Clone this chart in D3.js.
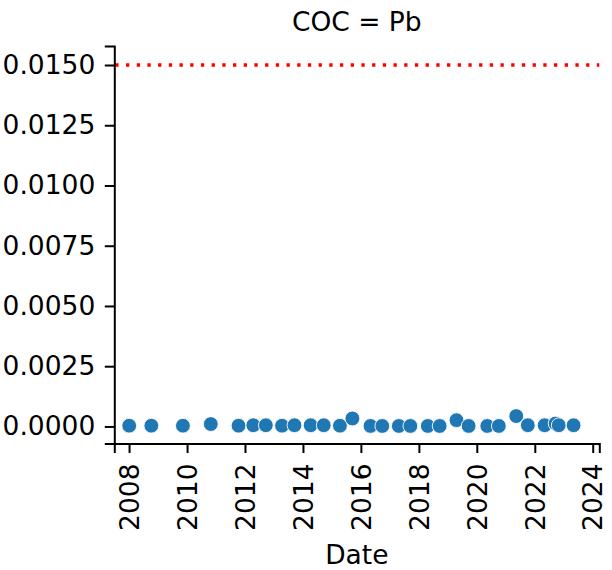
<!DOCTYPE html>
<html>
<head>
<meta charset="utf-8">
<script src="https://cdn.jsdelivr.net/npm/d3@7"></script>
<style>
  html, body { margin: 0; padding: 0; background: #fff; }
  svg { display: block; font-family: "DejaVu Sans", sans-serif; }
</style>
</head>
<body>
<svg id="chart" width="612" height="570"></svg>
<script>
// ---- data ----
const dates = [
  "2008-01-03", "2008-10-08", "2009-11-10", "2010-10-27", "2011-10-12",
  "2012-04-15", "2012-09-20", "2013-04-12", "2013-09-16", "2014-04-08",
  "2014-09-20", "2015-04-12", "2015-09-16", "2016-05-01", "2016-09-27",
  "2017-04-23", "2017-09-16", "2018-04-23", "2018-09-20", "2019-04-20",
  "2019-09-20", "2020-05-12", "2020-10-05", "2021-05-12", "2021-10-05",
  "2022-05-05", "2022-09-20", "2022-10-30", "2023-05-05"
];
const values = [
  0.00003, 0.00003, 0.00003, 0.00010, 0.00003,
  0.00005, 0.00005, 0.00003, 0.00005, 0.00005,
  0.00005, 0.00003, 0.00033, 0.00002, 0.00002,
  0.00002, 0.00002, 0.00002, 0.00002, 0.00026,
  0.00002, 0.00002, 0.00002, 0.00043, 0.00005,
  0.00005, 0.00012, 0.00005, 0.00005
];
const yTicks = [0, 0.0025, 0.005, 0.0075, 0.01, 0.0125, 0.015];
const xTickYears = [2008, 2010, 2012, 2014, 2016, 2018, 2020, 2022, 2024];
const threshold = [0.015];
const titleText = "COC = Pb";
const xLabelText = "Date";

// ---- layout ----
const mLeft = 114.3, mRight = 599.3, mTop = 46, mBottom = 443.5;
const fontSize = 26.5;

const parse = d3.timeParse("%Y-%m-%d");
const data = dates.map((d, i) => ({ date: parse(d), value: values[i] }));

const x = d3.scaleTime()
  .domain([new Date(2007, 5, 29), new Date(2024, 2, 24)])
  .range([mLeft, mRight]);
const y = d3.scaleLinear()
  .domain([-0.000708, 0.015789])
  .range([mBottom, mTop]);

const svg = d3.select("#chart");
svg.append("rect").attr("width", 612).attr("height", 570).attr("fill", "#fff");

// threshold line
svg.selectAll("line.thr").data(threshold).enter().append("line")
  .attr("class", "thr")
  .attr("x1", mLeft + 1).attr("x2", mRight)
  .attr("y1", d => y(d)).attr("y2", d => y(d))
  .attr("stroke", "red").attr("stroke-width", 3.3)
  .attr("stroke-dasharray", "3.3 7.4");

// points
svg.append("g").selectAll("circle").data(data).enter().append("circle")
  .attr("cx", d => x(d.date))
  .attr("cy", d => y(d.value))
  .attr("r", 7.4)
  .attr("fill", "#1f77b4")
  .attr("stroke", "#fff")
  .attr("stroke-width", 0.9);

// y axis
const yAxis = d3.axisLeft(y).tickValues(yTicks).tickFormat(d3.format(".4f"))
  .tickSizeOuter(0).tickSize(9.5).tickPadding(9.5);
const gy = svg.append("g").attr("transform", `translate(${mLeft},0)`).call(yAxis);
gy.selectAll("text").attr("font-size", fontSize).attr("fill", "#000")
  .attr("font-family", "DejaVu Sans");
gy.selectAll("line").attr("stroke", "#000").attr("stroke-width", 2);
gy.select(".domain").attr("stroke", "#000").attr("stroke-width", 2);

// x axis
const xAxis = d3.axisBottom(x)
  .tickValues(xTickYears.map(yr => new Date(yr, 0, 1)))
  .tickFormat(d3.timeFormat("%Y"))
  .tickSizeOuter(0).tickSize(9.5);
const gx = svg.append("g").attr("transform", `translate(0,${mBottom})`).call(xAxis);
gx.selectAll("line").attr("stroke", "#000").attr("stroke-width", 2);
gx.select(".domain").attr("stroke", "#000").attr("stroke-width", 2);
gx.selectAll("text")
  .attr("font-size", fontSize).attr("fill", "#000").attr("font-family", "DejaVu Sans")
  .attr("transform", "rotate(-90)")
  .attr("x", -20).attr("y", 0).attr("dy", "0.35em")
  .attr("text-anchor", "end");

// title
svg.append("text").attr("x", (mLeft + mRight) / 2).attr("y", 31)
  .attr("text-anchor", "middle").attr("font-size", fontSize).attr("fill", "#000")
  .text(titleText);

// x label
svg.append("text").attr("x", (mLeft + mRight) / 2).attr("y", 564)
  .attr("text-anchor", "middle").attr("font-size", fontSize).attr("fill", "#000")
  .text(xLabelText);
</script>
</body>
</html>
